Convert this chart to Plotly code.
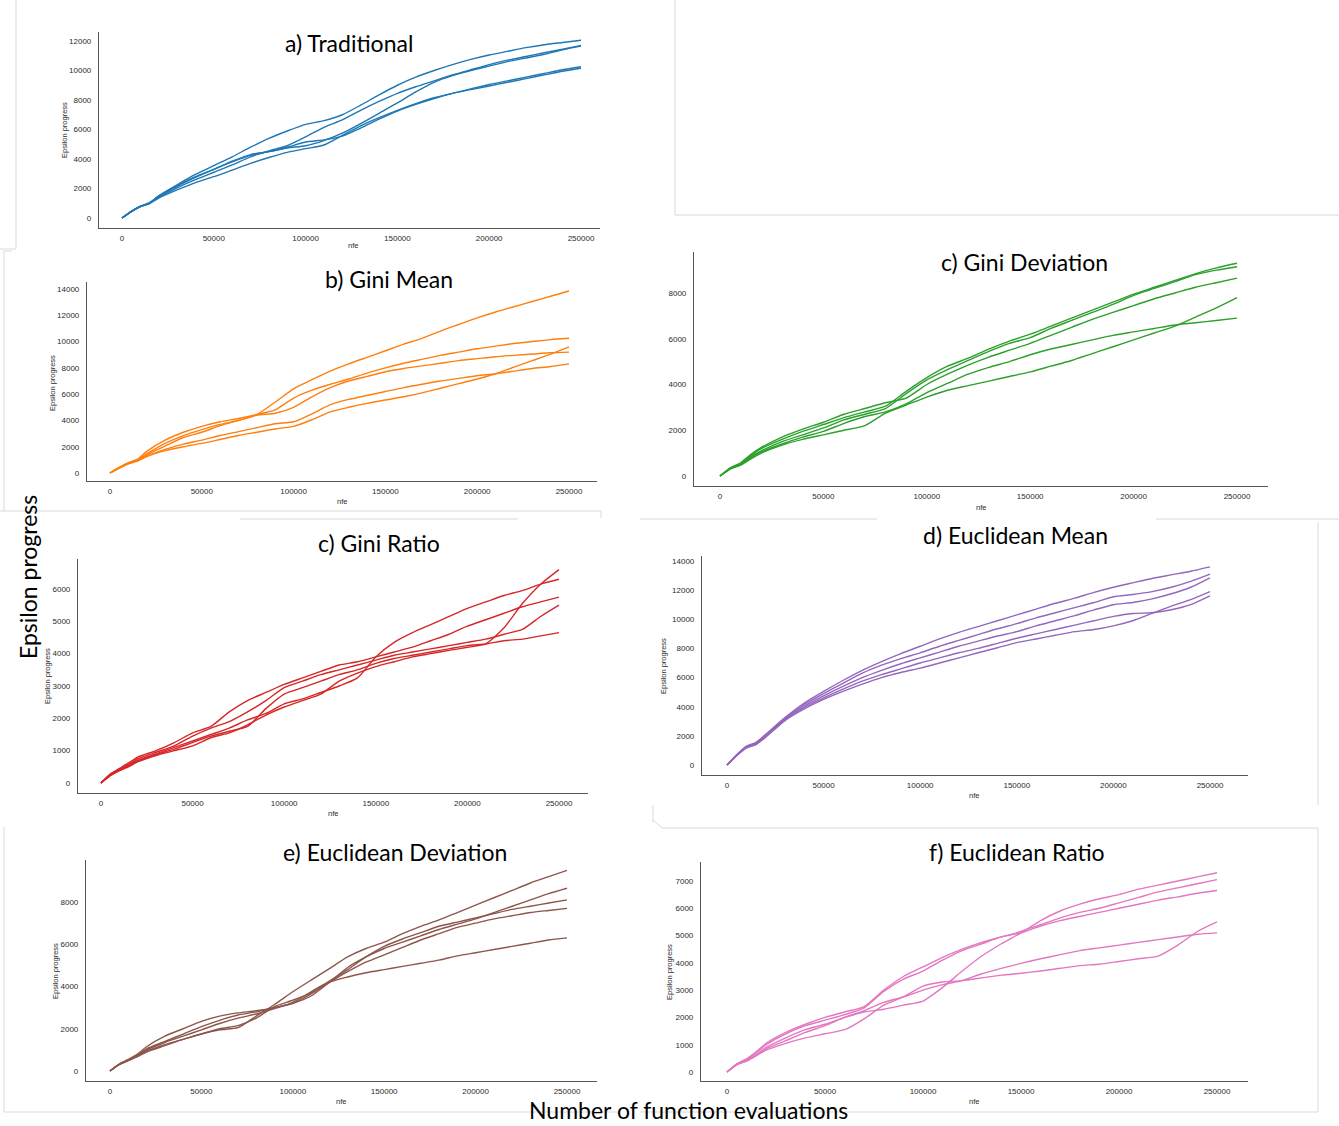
import plotly.graph_objects as go

# ---- data -------------------------------------------------------------
nfe = [0, 5000, 10000, 15000, 20000, 30000, 40000, 50000, 60000, 70000,
       80000, 90000, 100000, 110000, 120000, 130000, 140000, 150000, 160000,
       170000, 180000, 190000, 200000, 210000, 220000, 230000, 240000, 250000]

traditional = [
    [0, 450, 800, 1050, 1500, 2250, 2950, 3550, 4150, 4800, 5400, 5900, 6350, 6600, 7000, 7650, 8350, 9000, 9550, 10000, 10400, 10750, 11050, 11300, 11550, 11750, 11900, 12050],
    [0, 430, 780, 1000, 1400, 2050, 2600, 3100, 3600, 4150, 4550, 4900, 5500, 6150, 6650, 7300, 7900, 8450, 8900, 9300, 9700, 10050, 10400, 10700, 10950, 11200, 11450, 11700],
    [0, 430, 780, 1000, 1450, 2150, 2750, 3300, 3800, 4250, 4500, 4750, 4900, 5250, 5750, 6400, 7100, 7800, 8550, 9200, 9650, 10000, 10300, 10600, 10850, 11100, 11400, 11650],
    [0, 440, 790, 1000, 1500, 2200, 2800, 3300, 3850, 4300, 4500, 4800, 5150, 5300, 5550, 6100, 6700, 7250, 7700, 8100, 8450, 8750, 9050, 9300, 9550, 9800, 10050, 10250],
    [0, 420, 770, 980, 1350, 1900, 2400, 2800, 3250, 3700, 4100, 4450, 4700, 4950, 5600, 6250, 6800, 7300, 7750, 8150, 8450, 8700, 8950, 9200, 9450, 9700, 9950, 10150],
]

gini_mean = [
    [0, 400, 750, 1000, 1450, 2250, 2850, 3300, 3700, 4000, 4450, 5400, 6400, 7100, 7750, 8300, 8800, 9300, 9800, 10250, 10800, 11300, 11800, 12250, 12650, 13050, 13450, 13850],
    [0, 420, 780, 1050, 1650, 2500, 3100, 3550, 3900, 4150, 4450, 4800, 5700, 6300, 6750, 7150, 7600, 8000, 8350, 8650, 8950, 9200, 9450, 9650, 9850, 10000, 10150, 10250],
    [0, 400, 750, 1000, 1400, 2050, 2700, 3100, 3600, 4000, 4400, 4550, 5000, 5800, 6500, 7000, 7350, 7700, 7950, 8150, 8350, 8550, 8700, 8850, 8950, 9050, 9150, 9200],
    [0, 380, 720, 950, 1300, 1800, 2200, 2500, 2850, 3150, 3450, 3750, 3900, 4500, 5200, 5600, 5900, 6200, 6500, 6750, 7000, 7200, 7400, 7550, 7750, 7950, 8100, 8300],
    [0, 370, 700, 900, 1250, 1700, 2000, 2250, 2550, 2850, 3100, 3350, 3550, 4050, 4650, 5000, 5300, 5550, 5800, 6100, 6450, 6800, 7150, 7550, 8050, 8550, 9050, 9600],
]

gini_deviation = [
    [0, 350, 550, 900, 1200, 1600, 1950, 2250, 2550, 2800, 3050, 3700, 4300, 4800, 5150, 5550, 5900, 6200, 6550, 6900, 7250, 7600, 7950, 8250, 8550, 8850, 9100, 9300],
    [0, 330, 520, 850, 1100, 1500, 1800, 2100, 2450, 2700, 2950, 3600, 4200, 4650, 5050, 5450, 5800, 6050, 6450, 6800, 7150, 7500, 7900, 8200, 8500, 8800, 9000, 9150],
    [0, 360, 580, 950, 1250, 1700, 2050, 2350, 2700, 2950, 3200, 3400, 4000, 4450, 4850, 5200, 5500, 5800, 6150, 6500, 6850, 7150, 7450, 7750, 8000, 8250, 8450, 8650],
    [0, 320, 500, 800, 1050, 1400, 1700, 1950, 2300, 2600, 2800, 3150, 3650, 4050, 4450, 4750, 5000, 5300, 5550, 5750, 5950, 6150, 6300, 6450, 6600, 6700, 6800, 6900],
    [0, 300, 480, 750, 1000, 1350, 1600, 1800, 2000, 2200, 2750, 3100, 3450, 3750, 3950, 4150, 4350, 4550, 4800, 5050, 5350, 5650, 5950, 6250, 6550, 6950, 7350, 7800],
]

gini_ratio = [
    [0, 250, 400, 550, 700, 900, 1100, 1300, 1500, 1700, 1950, 2150, 2450, 2600, 2800, 3000, 3250, 3900, 4350, 4650, 4900, 5150, 5400, 5600, 5800, 5950, 6150, 6300],
    [0, 220, 380, 500, 650, 850, 1000, 1150, 1400, 1550, 1800, 2100, 2350, 2550, 2750, 3150, 3400, 3600, 3750, 3900, 4000, 4100, 4200, 4300, 4800, 5550, 6150, 6600],
    [0, 280, 450, 620, 800, 1000, 1250, 1550, 1750, 2200, 2550, 2800, 3050, 3250, 3450, 3650, 3750, 3900, 4050, 4200, 4400, 4600, 4850, 5050, 5250, 5450, 5600, 5750],
    [0, 260, 420, 580, 750, 950, 1150, 1450, 1700, 1900, 2200, 2550, 2950, 3150, 3350, 3500, 3650, 3800, 3950, 4050, 4150, 4250, 4350, 4450, 4600, 4750, 5150, 5500],
    [0, 240, 380, 520, 680, 880, 1050, 1250, 1450, 1600, 1750, 2300, 2750, 2950, 3150, 3350, 3500, 3700, 3850, 3950, 4050, 4150, 4250, 4300, 4400, 4450, 4550, 4650],
]

euclidean_mean = [
    [0, 700, 1300, 1550, 2100, 3250, 4250, 5050, 5800, 6500, 7100, 7650, 8150, 8650, 9100, 9500, 9900, 10300, 10700, 11100, 11450, 11850, 12200, 12500, 12800, 13050, 13300, 13600],
    [0, 680, 1250, 1500, 2050, 3200, 4150, 4900, 5600, 6300, 6850, 7300, 7700, 8150, 8550, 8950, 9350, 9700, 10100, 10450, 10800, 11150, 11550, 11700, 11900, 12200, 12600, 13100],
    [0, 660, 1200, 1450, 2000, 3150, 4050, 4750, 5400, 6000, 6500, 6950, 7350, 7750, 8150, 8500, 8850, 9150, 9550, 9900, 10250, 10650, 11000, 11150, 11400, 11750, 12200, 12850],
    [0, 650, 1200, 1450, 1950, 3100, 3950, 4600, 5200, 5750, 6200, 6600, 7000, 7350, 7700, 8000, 8350, 8700, 9000, 9300, 9600, 9900, 10200, 10400, 10450, 10650, 11000, 11600],
    [0, 640, 1150, 1400, 1900, 3050, 3850, 4500, 5050, 5550, 6000, 6350, 6650, 7000, 7350, 7700, 8050, 8400, 8650, 8900, 9150, 9300, 9550, 9900, 10400, 10900, 11350, 11900],
]

euclidean_deviation = [
    [0, 300, 500, 700, 950, 1250, 1500, 1750, 1950, 2050, 2600, 3150, 3750, 4300, 4850, 5400, 5800, 6100, 6500, 6850, 7150, 7500, 7850, 8200, 8550, 8900, 9200, 9500],
    [0, 320, 520, 750, 1050, 1400, 1750, 2100, 2400, 2650, 2800, 3000, 3200, 3550, 4200, 4900, 5400, 5800, 6100, 6400, 6700, 6950, 7200, 7500, 7800, 8100, 8400, 8650],
    [0, 310, 510, 720, 1000, 1350, 1650, 1950, 2250, 2500, 2700, 2950, 3250, 3750, 4250, 4800, 5400, 5900, 6250, 6550, 6850, 7050, 7250, 7450, 7650, 7800, 7950, 8100],
    [0, 300, 490, 680, 900, 1200, 1500, 1750, 2000, 2150, 2500, 3050, 3350, 3700, 4200, 4700, 5150, 5500, 5850, 6200, 6500, 6800, 7000, 7200, 7350, 7500, 7600, 7700],
    [0, 330, 550, 800, 1150, 1650, 2000, 2350, 2600, 2750, 2850, 3000, 3200, 3650, 4200, 4450, 4650, 4800, 4950, 5100, 5250, 5450, 5600, 5750, 5900, 6050, 6200, 6300],
]

euclidean_ratio = [
    [0, 280, 420, 650, 900, 1250, 1550, 1750, 2000, 2200, 2300, 2450, 2600, 3100, 3700, 4250, 4700, 5100, 5550, 5900, 6150, 6350, 6500, 6700, 6850, 7000, 7150, 7300],
    [0, 300, 480, 750, 1050, 1450, 1750, 2000, 2200, 2400, 3000, 3500, 3850, 4200, 4500, 4750, 4950, 5150, 5400, 5650, 5850, 6000, 6200, 6400, 6600, 6750, 6900, 7050],
    [0, 290, 460, 720, 1000, 1400, 1700, 1900, 2100, 2350, 2950, 3400, 3700, 4100, 4450, 4700, 4950, 5100, 5350, 5550, 5700, 5850, 6000, 6150, 6300, 6420, 6550, 6650],
    [0, 260, 400, 600, 800, 1050, 1250, 1400, 1550, 1950, 2450, 2750, 3150, 3300, 3350, 3450, 3550, 3620, 3700, 3800, 3900, 3950, 4050, 4150, 4250, 4650, 5150, 5500],
    [0, 270, 410, 620, 850, 1150, 1450, 1700, 2000, 2250, 2550, 2750, 3000, 3200, 3350, 3600, 3800, 3980, 4150, 4300, 4450, 4550, 4650, 4750, 4850, 4950, 5050, 5100],
]

panel_titles = ["a) Traditional", "b) Gini Mean", "c) Gini Deviation", "c) Gini Ratio",
                "d) Euclidean Mean", "e) Euclidean Deviation", "f) Euclidean Ratio"]
panel_series = [traditional, gini_mean, gini_deviation, gini_ratio,
                euclidean_mean, euclidean_deviation, euclidean_ratio]
panel_colors = ["#1f77b4", "#ff7f0e", "#2ca02c", "#d62728", "#9467bd", "#8c564b", "#e377c2"]
y_steps = [2000, 2000, 2000, 1000, 2000, 2000, 1000]
y_tops = [12000, 14000, 8000, 6000, 14000, 8000, 7000]
x_ticks = [0, 50000, 100000, 150000, 200000, 250000]

# ---- layout geometry (pixels in a 1339 x 1126 canvas) -----------------
W, H = 1339, 1126

# axis box: left, right, top, bottom; plus pixel of x=0, x=250000, y=0, y=top tick
boxes = [
    dict(l=99, r=600, t=32, b=228, x0=122, x1=581, y0=218, y1=41),
    dict(l=87, r=597, t=282, b=481, x0=110, x1=569, y0=473, y1=289),
    dict(l=694, r=1268, t=252, b=486, x0=720, x1=1237, y0=476, y1=293),
    dict(l=78, r=588, t=559, b=793, x0=101, x1=559, y0=783, y1=589),
    dict(l=702, r=1248, t=556, b=775, x0=727, x1=1210, y0=765, y1=561),
    dict(l=86, r=597, t=860, b=1081, x0=110, x1=567, y0=1071, y1=902),
    dict(l=701, r=1248, t=862, b=1081, x0=727, x1=1217, y0=1072, y1=881),
]
title_pos = [(349, 43), (389, 279), (1024, 262), (379, 543), (1015, 535), (395, 852), (1017, 852)]
ytitle_pos = [(64, 130), (52, 383), None, (47, 676), (664, 666), (55, 971), (669, 972)]
xtitle_pos = [(353, 246), (342, 501), (981, 507), (333, 813), (974, 795), (341, 1101), (974, 1101)]


def px(x):
    return x / W


def py(y):
    return 1 - y / H


def lin_range(p_lo, p_hi, p_a, p_b, v_a, v_b):
    k = (v_b - v_a) / (p_b - p_a)
    return [v_a + (p_lo - p_a) * k, v_a + (p_hi - p_a) * k]


TICK_FONT = dict(family="Liberation Sans, Arial, sans-serif", size=8, color="#2b2b2b")
TITLE_FONT = dict(family="Lato, Open Sans, sans-serif", size=23, color="#000000")
SMALL_FONT = dict(family="Liberation Sans, Arial, sans-serif", size=7.5, color="#2b2b2b")

fig = go.Figure()
layout = dict(
    width=W, height=H, autosize=False,
    margin=dict(l=0, r=0, t=0, b=0),
    paper_bgcolor="white", plot_bgcolor="white",
    showlegend=False,
)
annotations = []

for i, (series, color, box) in enumerate(zip(panel_series, panel_colors, boxes)):
    n = i + 1
    xa = "x" if n == 1 else f"x{n}"
    ya = "y" if n == 1 else f"y{n}"
    for s in series:
        fig.add_trace(go.Scatter(
            x=nfe, y=s, mode="lines", xaxis=xa, yaxis=ya,
            line=dict(color=color, width=1.4, shape="spline", smoothing=0.6),
            hoverinfo="skip",
        ))
    xr = lin_range(box["l"], box["r"], box["x0"], box["x1"], 0, 250000)
    yr = lin_range(box["b"], box["t"], box["y0"], box["y1"], 0, y_tops[i])
    axis_common = dict(
        showgrid=False, zeroline=False, showline=True,
        linecolor="#555555", linewidth=1.2, ticks="",
        tickfont=TICK_FONT, tickformat="d", fixedrange=True,
    )
    layout["xaxis" if n == 1 else f"xaxis{n}"] = dict(
        axis_common, domain=[px(box["l"]), px(box["r"])], range=xr,
        anchor=ya, tickvals=x_ticks, ticklabelstandoff=2,
    )
    layout["yaxis" if n == 1 else f"yaxis{n}"] = dict(
        axis_common, domain=[py(box["b"]), py(box["t"])], range=yr,
        anchor=xa, tick0=0, dtick=y_steps[i], ticklabelstandoff=5,
    )

    tx, ty = title_pos[i]
    annotations.append(dict(text=panel_titles[i], x=px(tx), y=py(ty), xref="paper", yref="paper",
                            showarrow=False, font=TITLE_FONT, xanchor="center", yanchor="middle"))
    if ytitle_pos[i] is not None:
        ax_, ay_ = ytitle_pos[i]
        annotations.append(dict(text="Epsilon progress", x=px(ax_), y=py(ay_), xref="paper", yref="paper",
                                showarrow=False, font=SMALL_FONT, textangle=-90,
                                xanchor="center", yanchor="middle"))
    nx, ny = xtitle_pos[i]
    annotations.append(dict(text="nfe", x=px(nx), y=py(ny), xref="paper", yref="paper",
                            showarrow=False, font=SMALL_FONT, xanchor="center", yanchor="middle"))

# shared labels
BIG_FONT = dict(family="Lato, Open Sans, sans-serif", size=23, color="#000000")
annotations.append(dict(text="Epsilon progress", x=px(28), y=py(577), xref="paper", yref="paper",
                        showarrow=False, font=BIG_FONT, textangle=-90, xanchor="center", yanchor="middle"))
annotations.append(dict(text="Number of function evaluations", x=px(688), y=py(1110), xref="paper",
                        yref="paper", showarrow=False, font=BIG_FONT, xanchor="center", yanchor="middle"))
layout["annotations"] = annotations

# light frame lines around the individual panels
frame_segments = [
    (16, 0, 16, 248), (0, 249, 16, 249),
    (675, 0, 675, 215), (675, 215, 1339, 215),
    (4, 251, 12, 251), (4, 251, 4, 511), (0, 511, 601, 511), (601, 511, 601, 518),
    (240, 519, 518, 519),
    (640, 519, 877, 519), (1156, 519, 1339, 519),
    (1318, 522, 1318, 805), (653, 805, 653, 822),
    (4, 827, 4, 1112), (4, 1112, 620, 1112),
    (653, 820, 662, 828), (662, 828, 1318, 828), (1318, 828, 1318, 1112), (640, 1112, 1318, 1112),
]
layout["shapes"] = [
    dict(type="line", xref="paper", yref="paper", x0=px(a), y0=py(b), x1=px(c), y1=py(d),
         line=dict(color="#d9d9d9", width=1), layer="below")
    for a, b, c, d in frame_segments
]

fig.update_layout(**layout)
fig.write_html("out.html")
